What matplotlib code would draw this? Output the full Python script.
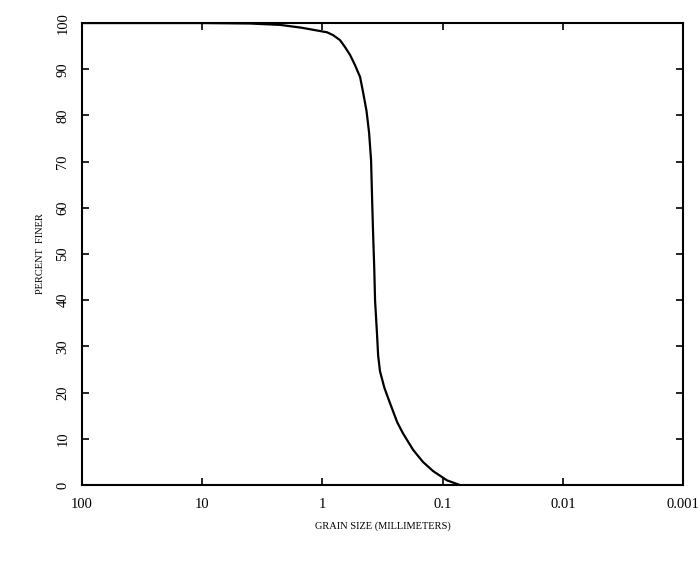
import matplotlib
matplotlib.use("Agg")
import matplotlib.pyplot as plt
import numpy as np

# grain size distribution
grain_mm = [100, 30, 10, 4, 2.25, 1.5, 0.916, 0.817, 0.714, 0.649, 0.589, 0.536,
            0.486, 0.459, 0.430, 0.409, 0.394, 0.386, 0.379, 0.371, 0.365, 0.352,
            0.344, 0.332, 0.305, 0.274, 0.239, 0.213, 0.176, 0.146, 0.12, 0.092, 0.072]
pct_finer = [100, 100, 100, 99.9, 99.6, 99.0, 98.0, 97.4, 96.3, 94.8, 93.1, 90.9,
             88.3, 85.0, 81.0, 76.2, 70.3, 61.7, 54.5, 47.2, 40.0, 32.9,
             28.0, 24.6, 21.0, 17.7, 13.6, 11.1, 7.6, 5.0, 3.0, 1.0, 0.0]

x_ticks = [100, 10, 1, 0.1, 0.01, 0.001]
x_labels = ["100", "10", "1", "0.1", "0.01", "0.001"]
y_ticks = list(range(0, 101, 10))

plt.rcParams["font.family"] = ["Liberation Serif", "DejaVu Serif"]

fig = plt.figure(figsize=(7.0, 5.62), dpi=100)
ax = fig.add_axes([0.117, 0.137, 0.859, 0.822])

ax.plot(grain_mm, pct_finer, color="black", lw=1.6)

ax.set_xscale("log")
ax.set_xlim(100, 0.001)
ax.set_ylim(0, 100)

ax.set_xticks(x_ticks)
ax.set_xticklabels(x_labels, fontsize=10.5)
ax.xaxis.set_minor_locator(matplotlib.ticker.NullLocator())
ax.set_yticks(y_ticks)
ax.set_yticklabels([str(v) for v in y_ticks], fontsize=10.5,
                   rotation=90, va="center")

ax.tick_params(direction="in", length=5, width=1.2, top=True, right=True, pad=9)
for s in ax.spines.values():
    s.set_linewidth(1.5)

ax.set_xlabel("GRAIN SIZE (MILLIMETERS)", fontsize=7.5)
ax.set_ylabel("PERCENT  FINER", fontsize=7.5)
ax.xaxis.set_label_coords(0.5, -0.078)
ax.yaxis.set_label_coords(-0.062, 0.5)

fig.savefig("out.png", dpi=100)
